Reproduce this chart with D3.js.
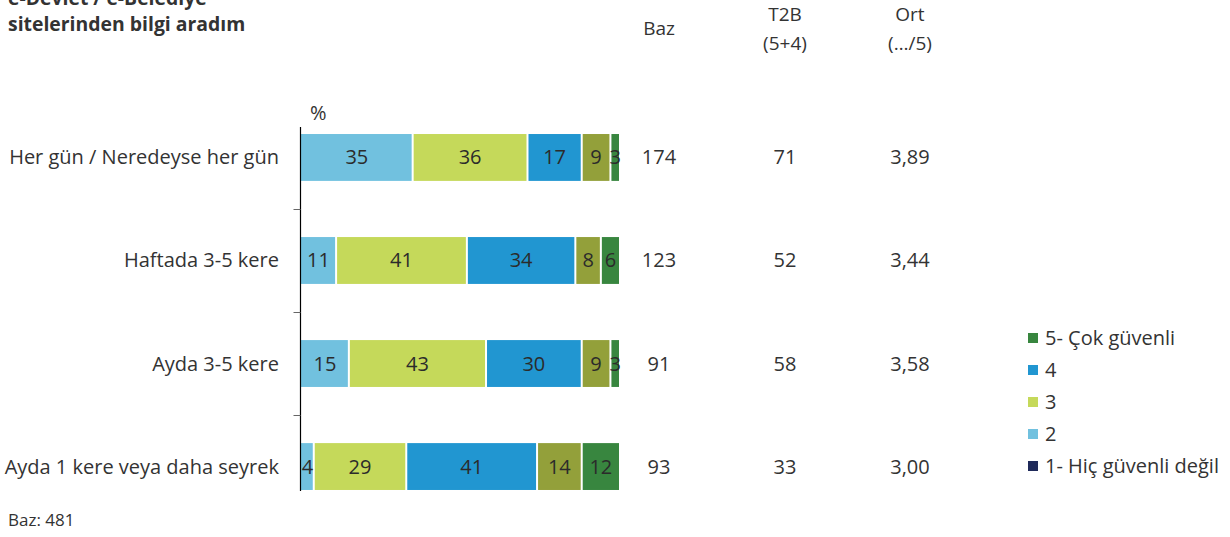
<!DOCTYPE html>
<html>
<head>
<meta charset="utf-8">
<script src="https://cdn.jsdelivr.net/npm/d3@7"></script>
<style>
  body { margin: 0; background: #fff; }
  svg text { font-family: "Open Sans", "Noto Sans", sans-serif; fill: #333; }
</style>
</head>
<body>
<div id="chart"></div>
<script>
// chart data
var categories = ["Her gün / Neredeyse her gün", "Haftada 3-5 kere", "Ayda 3-5 kere", "Ayda 1 kere veya daha seyrek"];
var seg1 = [35, 11, 15, 4];
var seg2 = [36, 41, 43, 29];
var seg3 = [17, 34, 30, 41];
var seg4 = [9, 8, 9, 14];
var seg5 = [3, 6, 3, 12];
var baz = ["174", "123", "91", "93"];
var t2b = ["71", "52", "58", "33"];
var ort = ["3,89", "3,44", "3,58", "3,00"];
var segColors = ["#71c1df", "#c5d95a", "#2196d1", "#93a03a", "#38863f"];
var legendLabels = ["5- Çok güvenli", "4", "3", "2", "1- Hiç güvenli değil"];
var legendColors = ["#38863f", "#2196d1", "#c5d95a", "#71c1df", "#1f2a5a"];

var width = 1230, height = 537;
var fs = "20px";
var svg = d3.select("#chart").append("svg")
    .attr("width", width)
    .attr("height", height);

var x = d3.scaleLinear().domain([0, 100]).range([301, 620]);
var y = d3.scaleBand().domain(categories).range([106, 518]).paddingInner(0.545).paddingOuter(0.272);

var rows = categories.map(function(c, i){
    return { cat: c, vals: [seg1[i], seg2[i], seg3[i], seg4[i], seg5[i]] };
});

// title (partly cut at the top, as in the original)
var title = svg.append("text").attr("x", 8).style("font-weight", "bold").style("font-size", "19.4px");
title.append("tspan").attr("x", 8).attr("y", 5).text("e-Devlet / e-Belediye");
title.append("tspan").attr("x", 8).attr("y", 31).text("sitelerinden bilgi aradım");

// column headers
var hdr = svg.append("g").style("font-size", "19px").attr("text-anchor", "middle");
hdr.append("text").attr("x", 659).attr("y", 35).text("Baz");
hdr.append("text").attr("x", 785).attr("y", 21).text("T2B");
hdr.append("text").attr("x", 785).attr("y", 50).text("(5+4)");
hdr.append("text").attr("x", 910).attr("y", 21).text("Ort");
hdr.append("text").attr("x", 910).attr("y", 50).text("(…/5)");

svg.append("text").attr("x", 310).attr("y", 120).style("font-size", fs).text("%");

// bars
var rowG = svg.selectAll("g.row").data(rows).enter().append("g")
    .attr("class", "row")
    .attr("transform", function(d){ return "translate(0," + y(d.cat) + ")"; });

rowG.each(function(d){
    var g = d3.select(this), acc = 0;
    d.vals.forEach(function(v, k){
        var x0 = x(acc), x1 = x(acc + v);
        acc += v;
        g.append("rect")
            .attr("x", x0 + (k === 0 ? 0 : 1))
            .attr("y", 0)
            .attr("width", Math.max(0, x1 - x0 - (k === 0 ? 1 : 2)))
            .attr("height", y.bandwidth())
            .attr("fill", segColors[k]);
        g.append("text")
            .attr("x", (x0 + x1) / 2)
            .attr("y", y.bandwidth() / 2)
            .attr("dy", "0.35em")
            .attr("text-anchor", "middle")
            .style("font-size", fs)
            .style("fill", "#2b2b2b")
            .text(v);
    });
});

// axis
var axisG = svg.append("g").attr("transform", "translate(300.5,0)")
    .call(d3.axisLeft(y).tickSize(0).tickFormat(""));
axisG.select(".domain").remove();
axisG.append("line")
    .attr("x1", 0).attr("x2", 0)
    .attr("y1", y(categories[0]) - 7)
    .attr("y2", y(categories[3]) + y.bandwidth() + 1)
    .attr("stroke", "#000").attr("stroke-width", 1.2);
categories.slice(1).forEach(function(c){
    var ty = Math.round(y(c) - y.step() * y.paddingInner() / 2) + 0.5;
    axisG.append("line").attr("x1", -7).attr("x2", 0).attr("y1", ty).attr("y2", ty)
        .attr("stroke", "#666").attr("stroke-width", 1);
});

// category labels
svg.selectAll("text.cat").data(categories).enter().append("text")
    .attr("class", "cat")
    .attr("x", 279)
    .attr("y", function(d){ return y(d) + y.bandwidth() / 2; })
    .attr("dy", "0.35em")
    .attr("text-anchor", "end")
    .style("font-size", fs)
    .text(function(d){ return d; });

// right-hand columns
[[baz, 659], [t2b, 785], [ort, 910]].forEach(function(col){
    svg.selectAll(null).data(col[0]).enter().append("text")
        .attr("x", col[1])
        .attr("y", function(d, i){ return y(categories[i]) + y.bandwidth() / 2; })
        .attr("dy", "0.35em")
        .attr("text-anchor", "middle")
        .style("font-size", fs)
        .text(function(d){ return d; });
});

// legend
var leg = svg.selectAll("g.leg").data(legendLabels).enter().append("g")
    .attr("class", "leg")
    .attr("transform", function(d, i){ return "translate(1028," + (338 + i * 32) + ")"; });
leg.append("rect").attr("x", 0).attr("y", -5).attr("width", 10).attr("height", 10)
    .attr("fill", function(d, i){ return legendColors[i]; });
leg.append("text").attr("x", 17).attr("dy", "0.35em").style("font-size", fs)
    .text(function(d){ return d; });

svg.append("text").attr("x", 8).attr("y", 526).style("font-size", "17px").text("Baz: 481");
</script>
</body>
</html>
